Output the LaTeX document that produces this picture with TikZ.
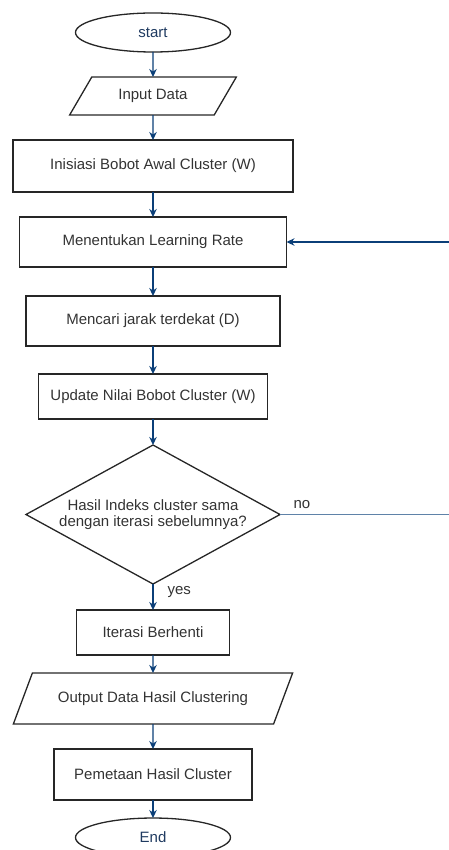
\documentclass[tikz,border=0pt]{standalone}
\usepackage{fontspec}
\setmainfont{Liberation Sans}
\usetikzlibrary{shapes.geometric}
\usetikzlibrary{positioning}
\usetikzlibrary{arrows.meta}
\definecolor{flowline}{HTML}{0B3F78}
\definecolor{flowpale}{HTML}{5F82A8}
\definecolor{boxtext}{HTML}{333333}
\definecolor{termtext}{HTML}{1F3A60}
\tikzset{
>={Stealth[length=8pt,width=7.5pt]}, % All arrows with stealth tip
my node/.style={font=\fontsize{15}{16.5}\selectfont,text=boxtext,inner sep=0pt,outer sep=0pt,line width=1.3pt,draw=black!85},
my box/.style={draw,my node,rectangle},
my term/.style={draw,my node,ellipse,text=termtext,minimum width=155pt,minimum height=39pt},
my io/.style={draw,my node,trapezium,trapezium stretches=true},
my test/.style={draw,my node,diamond,shape aspect=1.83,align=center},
my label/.style={font=\fontsize{15}{17}\selectfont,text=boxtext,inner sep=0pt},
flowchart/.style={
  x=1pt,y=1pt,
  node distance=25pt,
  every edge/.style={draw,flowline,line width=1.2pt}
}
}
\begin{document}
\begin{tikzpicture}[flowchart]
\useasboundingbox (0,0) rectangle (449,-850);
\coordinate (rim) at (449,0);
\node[my term] (start) at (153,-32.5) {start};
\node[my io,trapezium left angle=47,trapezium right angle=133,minimum width=167pt,minimum height=38pt] (input) [below=of start] {Input Data};
\node[my box,minimum width=280pt,minimum height=52pt] (init) [below=of input] {Inisiasi Bobot Awal Cluster (W)};
\node[my box,minimum width=267pt,minimum height=50pt] (rate) [below=of init] {Menentukan Learning Rate};
\node[my box,minimum width=254pt,minimum height=50pt] (dist) [below=29pt of rate] {Mencari jarak terdekat (D)};
\node[my box,minimum width=229pt,minimum height=45pt] (update) [below=28pt of dist] {Update Nilai Bobot Cluster (W)};
\node[my test,minimum width=254pt,minimum height=139pt] (check) [below=26pt of update] {Hasil Indeks cluster sama\\dengan iterasi sebelumnya?};
\node[my box,minimum width=153pt,minimum height=45pt] (stop) [below=26pt of check] {Iterasi Berhenti};
\node[my io,trapezium left angle=43,trapezium right angle=137,minimum width=280pt,minimum height=51pt] (output) [below=18pt of stop] {Output Data Hasil Clustering};
\node[my box,minimum width=198pt,minimum height=51pt] (map) [below=of output] {Pemetaan Hasil Cluster};
\node[my term] (end) [below=18pt of map] {End};
\path[->] (start)  edge (input)
          (input)  edge (init)
          (init)   edge (rate)
          (rate)   edge (dist)
          (dist)   edge (update)
          (update) edge (check)
          (check)  edge node[my label,pos=0.3,anchor=west,xshift=14pt]{yes} (stop)
          (stop)   edge (output)
          (output) edge (map)
          (map)    edge (end)
          (check.east) edge[-,flowpale] node[my label,pos=0,anchor=south west,xshift=13pt,yshift=5pt]{no} (check.east -| rim)
          (rate.east -| rim) edge (rate.east);
\end{tikzpicture}
\end{document}
